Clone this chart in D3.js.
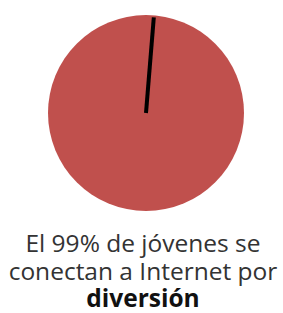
<!DOCTYPE html>
<html>
<head>
<meta charset="utf-8">
<script src="https://cdn.jsdelivr.net/npm/d3@7"></script>
<style>
  body { margin: 0; background: #fff; }
  text { font-family: "Open Sans", sans-serif; }
</style>
</head>
<body>
<div id="chart"></div>
<script>
// values
var labels = ["diversión", "otro"];
var values = [99, 1];
var captionLines = ["El 99% de jóvenes se", "conectan a Internet por"];
var captionBold = "diversión";

var svg = d3.select("#chart").append("svg").attr("width", 283).attr("height", 313),
    cx = 146, cy = 113, r = 98;

var g = svg.append("g").attr("transform", "translate(" + cx + "," + cy + ")");

// small slice sits just right of twelve o'clock
var pie = d3.pie().sort(null).startAngle(0.05 - 2 * Math.PI * 0.99).endAngle(0.05 + 2 * Math.PI * 0.01);
var arcs = pie(values);
var arc = d3.arc().innerRadius(0).outerRadius(r);

g.selectAll(".slice")
  .data(arcs.slice(0, 1))
  .enter().append("path")
  .attr("class", "slice")
  .attr("d", function(d) { return arc({startAngle: 0, endAngle: 2 * Math.PI}); })
  .attr("fill", "#c0504d");

// the 1% slice is drawn as a thick black spoke
g.selectAll(".spoke")
  .data(arcs.slice(1))
  .enter().append("line")
  .attr("class", "spoke")
  .attr("x1", 0).attr("y1", 0)
  .attr("x2", function(d) { var a = (d.startAngle + d.endAngle) / 2; return Math.sin(a) * (r - 2); })
  .attr("y2", function(d) { var a = (d.startAngle + d.endAngle) / 2; return -Math.cos(a) * (r - 2); })
  .attr("stroke", "#000")
  .attr("stroke-width", 4);

var cap = svg.append("text").attr("text-anchor", "middle").attr("font-size", "24.5px").attr("fill", "#333");
captionLines.forEach(function(t, i) {
  cap.append("tspan").attr("x", 143).attr("y", 252 + i * 28).text(t);
});
cap.append("tspan").attr("x", 143).attr("y", 307).attr("font-weight", "bold").attr("fill", "#111").text(captionBold);
</script>
</body>
</html>
